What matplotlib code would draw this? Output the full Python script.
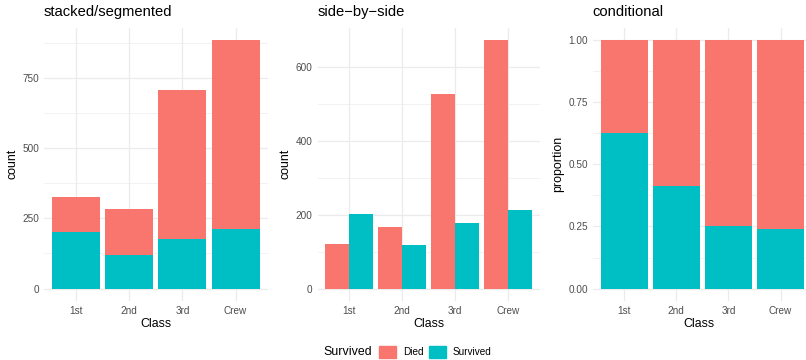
import matplotlib
matplotlib.use("Agg")
import matplotlib.pyplot as plt
import numpy as np
from matplotlib.patches import Patch

plt.rcParams['font.family'] = ['Liberation Sans', 'DejaVu Sans']

classes = ["1st", "2nd", "3rd", "Crew"]
died = [122, 167, 528, 673]
survived = [203, 118, 178, 212]
legend_labels = ["Died", "Survived"]
legend_title = "Survived"
titles = ["stacked/segmented", "side\u2212by\u2212side", "conditional"]

C_DIED = "#F8766D"
C_SURV = "#00BFC4"
GRID = "#EBEBEB"
TICKC = "#4D4D4D"

W, H = 806, 360
fig = plt.figure(figsize=(W / 100, H / 100), dpi=100)

top_px, bot_px = 27.6, 301.0
panels_px = [(44, 267.5), (317.5, 539.7), (592.7, 806)]

def make_ax(x0, x1):
    return fig.add_axes([x0 / W, 1 - bot_px / H, (x1 - x0) / W, (bot_px - top_px) / H])

def style(ax, title, ylabel, major, minor, fmt=None):
    for s in ax.spines.values():
        s.set_visible(False)
    ax.set_axisbelow(True)
    ax.set_yticks(major)
    ax.set_yticks(minor, minor=True)
    if fmt:
        ax.set_yticklabels([fmt(v) for v in major])
    ax.grid(axis='y', which='major', color=GRID, linewidth=0.9)
    ax.grid(axis='y', which='minor', color=GRID, linewidth=0.45)
    ax.grid(axis='x', which='major', color=GRID, linewidth=0.9)
    ax.tick_params(which='both', length=0, labelsize=7.2, labelcolor=TICKC, pad=3.5)
    ax.set_xlabel("Class", fontsize=8.9, labelpad=1.5)
    ax.set_ylabel(ylabel, fontsize=8.9, labelpad=3)
    ax.set_title(title, fontsize=10.6, loc='left', pad=8)

x = np.arange(1, len(classes) + 1)

# Panel 1: stacked
ax1 = make_ax(*panels_px[0])
ax1.bar(x, survived, width=0.9, color=C_SURV)
ax1.bar(x, died, width=0.9, bottom=survived, color=C_DIED)
tot = np.array(died) + np.array(survived)
ax1.set_xlim(0.4, 4.6)
ax1.set_ylim(-0.05 * tot.max(), 1.05 * tot.max())
ax1.set_xticks(x)
ax1.set_xticklabels(classes)
style(ax1, titles[0], "count", [0, 250, 500, 750], [125, 375, 625, 875])

# Panel 2: dodged
ax2 = make_ax(*panels_px[1])
ax2.bar(x - 0.225, died, width=0.45, color=C_DIED)
ax2.bar(x + 0.225, survived, width=0.45, color=C_SURV)
mx = max(max(died), max(survived))
ax2.set_xlim(0.4, 4.6)
ax2.set_ylim(-0.05 * mx, 1.05 * mx)
ax2.set_xticks(x)
ax2.set_xticklabels(classes)
style(ax2, titles[1], "count", [0, 200, 400, 600], [100, 300, 500])

# Panel 3: proportions
ax3 = make_ax(*panels_px[2])
ps = np.array(survived) / tot
pd_ = np.array(died) / tot
ax3.bar(x, ps, width=0.9, color=C_SURV)
ax3.bar(x, pd_, width=0.9, bottom=ps, color=C_DIED)
ax3.set_xlim(0.4, 0.4 + (806 - 592.7) / 52.2)
ax3.set_ylim(-0.05, 1.05)
ax3.set_xticks(x)
ax3.set_xticklabels(classes)
style(ax3, titles[2], "proportion", [0, 0.25, 0.5, 0.75, 1.0], [0.125, 0.375, 0.625, 0.875],
      fmt=lambda v: f"{v:.2f}")

# Legend
fig.text(323 / W, 1 - 352 / H, legend_title, fontsize=8.9, ha='left', va='center')
handles = [Patch(color=C_DIED), Patch(color=C_SURV)]
fig.legend(handles, legend_labels, loc='center left', bbox_to_anchor=(379 / W, 1 - 352 / H),
           ncol=2, frameon=False, fontsize=7.2, handlelength=1.72, handleheight=1.6,
           handletextpad=0.65, columnspacing=0.55, borderaxespad=0, borderpad=0)

fig.savefig("out.png", dpi=100)
